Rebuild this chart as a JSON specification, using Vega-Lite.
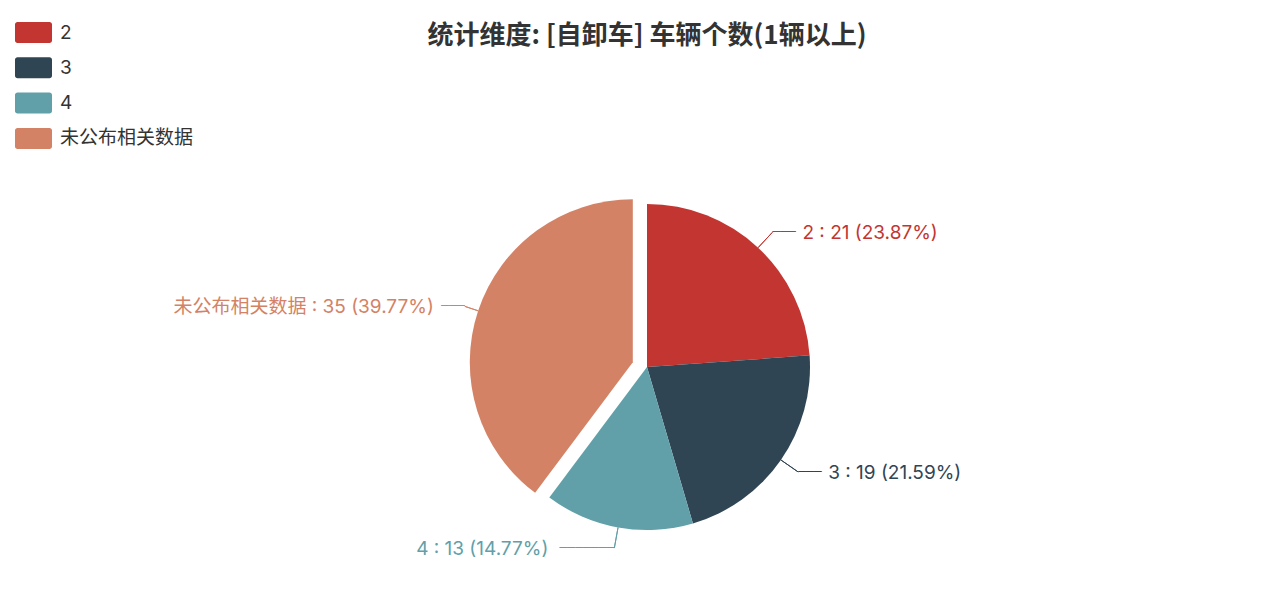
{
  "$schema": "https://vega.github.io/schema/vega-lite/v6.json",
  "width": 1240,
  "height": 482,
  "autosize": "none",
  "padding": {"left": 27, "top": 126, "right": 0, "bottom": 0},
  "background": "white",
  "title": {"text": "统计维度: [自卸车] 车辆个数(1辆以上)", "font": "Noto Sans CJK SC", "fontSize": 26, "fontWeight": "bold", "color": "#333333", "anchor": "middle", "offset": -27},
  "config": {"view": {"stroke": null}},
  "data": {"values": [
    {"name": "2", "value": 21},
    {"name": "3", "value": 19},
    {"name": "4", "value": 13},
    {"name": "未公布相关数据", "value": 35}
  ]},
  "transform": [
    {"joinaggregate": [{"op": "sum", "field": "value", "as": "total"}]},
    {"stack": "value", "groupby": [], "sort": [{"field": "name", "order": "ascending"}], "offset": "normalize", "as": ["s0", "s1"]},
    {"calculate": "(datum.s0 + datum.s1) / 2", "as": "mid"},
    {"calculate": "datum.value / datum.total * 10000", "as": "p"},
    {"calculate": "floor(datum.p)", "as": "fl"},
    {"calculate": "datum.p - datum.fl", "as": "rem"},
    {"joinaggregate": [{"op": "sum", "field": "fl", "as": "flsum"}]},
    {"window": [{"op": "row_number", "as": "rk"}], "sort": [{"field": "rem", "order": "descending"}]},
    {"calculate": "(datum.fl + (datum.rk <= 10000 - datum.flsum ? 1 : 0)) / 100", "as": "pct"},
    {"calculate": "datum.name + ' : ' + datum.value + ' (' + format(datum.pct, '.2f') + '%)'", "as": "label"}
  ],
  "layer": [
    {
      "transform": [{"filter": "datum.name !== '未公布相关数据'"}],
      "mark": {"type": "arc", "outerRadius": 163},
      "encoding": {
        "theta": {"field": "s0", "type": "quantitative", "scale": {"domain": [0, 1]}, "stack": null},
        "theta2": {"field": "s1"},
        "color": {
          "field": "name", "type": "nominal",
          "scale": {"domain": ["2", "3", "4", "未公布相关数据"], "range": ["#c23531", "#2f4554", "#61a0a8", "#d48265"]},
          "legend": {
            "orient": "none", "legendX": -4, "legendY": -104, "title": null,
            "symbolType": "M-1.52,-1 L1.52,-1 A0.24,0.24 0 0 1 1.762,-0.76 L1.762,0.76 A0.24,0.24 0 0 1 1.52,1 L-1.52,1 A0.24,0.24 0 0 1 -1.762,0.76 L-1.762,-0.76 A0.24,0.24 0 0 1 -1.52,-1 Z",
            "symbolSize": 441, "symbolStrokeWidth": 0, "symbolOpacity": 1,
            "labelFont": "Inter, Noto Sans CJK SC", "labelFontSize": 19, "labelColor": "#333333",
            "labelOffset": 16, "rowPadding": 12.3
          }
        }
      }
    },
    {
      "transform": [{"filter": "datum.name === '未公布相关数据'"}],
      "mark": {"type": "arc", "outerRadius": 163, "xOffset": -14.2, "yOffset": -4.7},
      "encoding": {
        "theta": {"field": "s0", "type": "quantitative", "scale": {"domain": [0, 1]}, "stack": null},
        "theta2": {"field": "s1"},
        "color": {"field": "name", "type": "nominal"}
      }
    },
    {
      "transform": [{"filter": "datum.name !== '未公布相关数据'"}],
      "mark": {"type": "arc", "filled": false, "strokeWidth": 1},
      "encoding": {
        "theta": {"field": "mid", "type": "quantitative", "stack": null},
        "theta2": {"field": "mid"},
        "radius": {"value": 184},
        "radius2": {"value": 163},
        "stroke": {"field": "name", "type": "nominal", "scale": {"domain": ["2", "3", "4", "未公布相关数据"], "range": ["#c23531", "#2f4554", "#61a0a8", "#d48265"]}, "legend": null}
      }
    },
    {
      "transform": [{"filter": "datum.name === '未公布相关数据'"}],
      "mark": {"type": "arc", "filled": false, "strokeWidth": 1},
      "encoding": {
        "theta": {"field": "mid", "type": "quantitative", "stack": null},
        "theta2": {"field": "mid"},
        "radius": {"value": 192},
        "radius2": {"value": 178},
        "stroke": {"field": "name", "type": "nominal", "legend": null}
      }
    },
    {
      "transform": [{"filter": "datum.name === '2' || datum.name === '3'"}],
      "mark": {"type": "text", "align": "left", "baseline": "middle", "font": "DejaVu Sans", "fontSize": 13, "text": "───"},
      "encoding": {
        "theta": {"field": "mid", "type": "quantitative", "stack": null},
        "radius": {"value": 184},
        "fill": {"field": "name", "type": "nominal", "scale": {"domain": ["2", "3", "4", "未公布相关数据"], "range": ["#c23531", "#2f4554", "#61a0a8", "#d48265"]}, "legend": null}
      }
    },
    {
      "transform": [{"filter": "datum.name === '2' || datum.name === '3'"}],
      "mark": {"type": "text", "align": "left", "baseline": "middle", "font": "Inter, Noto Sans CJK SC", "fontSize": 19, "dx": 30, "dy": 1},
      "encoding": {
        "theta": {"field": "mid", "type": "quantitative", "stack": null},
        "radius": {"value": 184},
        "text": {"field": "label"},
        "fill": {"field": "name", "type": "nominal", "legend": null}
      }
    },
    {
      "transform": [{"filter": "datum.name === '4'"}],
      "mark": {"type": "text", "align": "right", "baseline": "middle", "font": "DejaVu Sans", "fontSize": 13, "text": "───────"},
      "encoding": {
        "theta": {"field": "mid", "type": "quantitative", "stack": null},
        "radius": {"value": 184},
        "fill": {"field": "name", "type": "nominal", "legend": null}
      }
    },
    {
      "transform": [{"filter": "datum.name === '4'"}],
      "mark": {"type": "text", "align": "right", "baseline": "middle", "font": "Inter, Noto Sans CJK SC", "fontSize": 19, "dx": -66, "dy": 1},
      "encoding": {
        "theta": {"field": "mid", "type": "quantitative", "stack": null},
        "radius": {"value": 184},
        "text": {"field": "label"},
        "fill": {"field": "name", "type": "nominal", "legend": null}
      }
    },
    {
      "transform": [{"filter": "datum.name === '未公布相关数据'"}],
      "mark": {"type": "text", "align": "right", "baseline": "middle", "font": "DejaVu Sans", "fontSize": 13, "text": "───"},
      "encoding": {
        "theta": {"field": "mid", "type": "quantitative", "stack": null},
        "radius": {"value": 192},
        "fill": {"field": "name", "type": "nominal", "legend": null}
      }
    },
    {
      "transform": [{"filter": "datum.name === '未公布相关数据'"}],
      "mark": {"type": "text", "align": "right", "baseline": "middle", "font": "Inter, Noto Sans CJK SC", "fontSize": 19, "dx": -31, "dy": 1},
      "encoding": {
        "theta": {"field": "mid", "type": "quantitative", "stack": null},
        "radius": {"value": 192},
        "text": {"field": "label"},
        "fill": {"field": "name", "type": "nominal", "legend": null}
      }
    }
  ]
}
